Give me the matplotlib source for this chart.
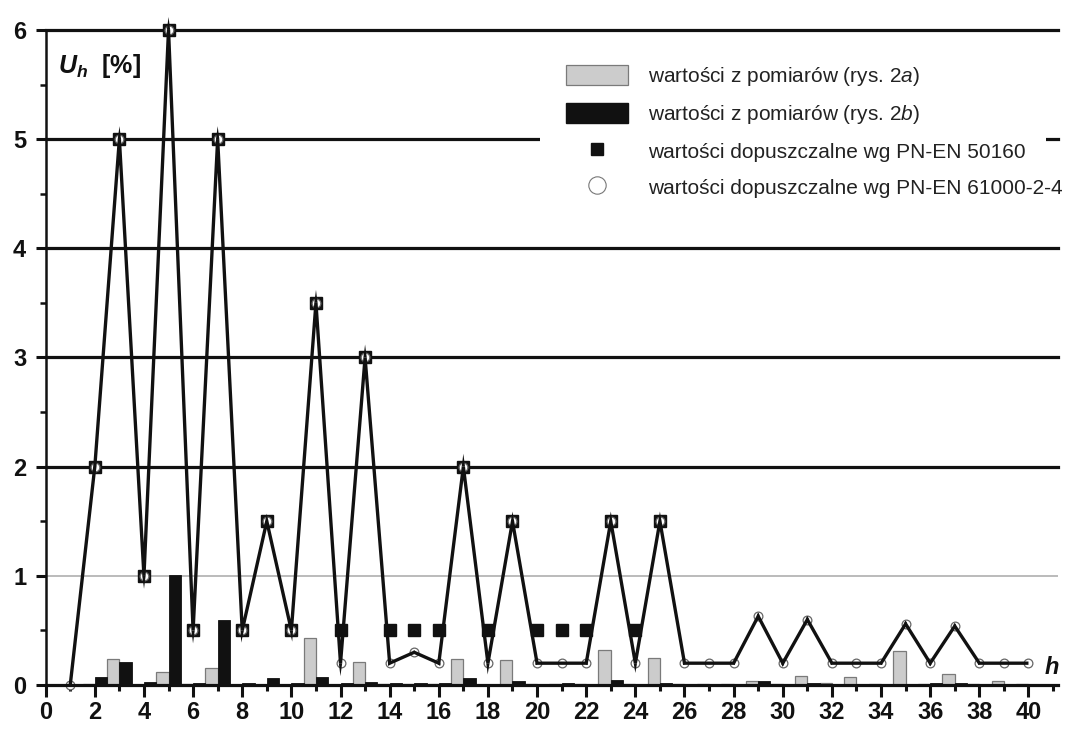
import numpy as np
import matplotlib
matplotlib.use("Agg")
import matplotlib.pyplot as plt
from matplotlib.patches import Patch, Rectangle, Polygon
from matplotlib.lines import Line2D
from matplotlib.transforms import IdentityTransform

plt.rcParams['font.family'] = ['Liberation Sans', 'DejaVu Sans']
plt.rcParams['mathtext.fontset'] = 'custom'
plt.rcParams['mathtext.rm'] = 'Liberation Sans'
plt.rcParams['mathtext.it'] = 'Liberation Sans:italic'
plt.rcParams['mathtext.bf'] = 'Liberation Sans:bold'
plt.rcParams['mathtext.bfit'] = 'Liberation Sans:italic:bold'

# harmonic order
harmonics = np.arange(1, 41)

# measured harmonic voltages [%]
measured_2a = [0.0, 0.01, 0.24, 0.0, 0.12, 0.005, 0.16, 0.0, 0.0, 0.0,
               0.43, 0.0, 0.21, 0.005, 0.01, 0.01, 0.24, 0.0, 0.23, 0.01,
               0.01, 0.01, 0.32, 0.01, 0.25, 0.01, 0.01, 0.01, 0.04, 0.01,
               0.08, 0.015, 0.075, 0.01, 0.31, 0.01, 0.10, 0.01, 0.035, 0.005]
measured_2b = [0.005, 0.07, 0.21, 0.03, 1.01, 0.02, 0.60, 0.02, 0.06, 0.02,
               0.07, 0.015, 0.03, 0.015, 0.015, 0.02, 0.06, 0.01, 0.04, 0.01,
               0.015, 0.01, 0.045, 0.01, 0.015, 0.01, 0.01, 0.01, 0.04, 0.01,
               0.015, 0.01, 0.01, 0.01, 0.01, 0.015, 0.015, 0.01, 0.01, 0.005]

# permissible levels
nan = np.nan
limit_50160 = [nan, 2, 5, 1, 6, 0.5, 5, 0.5, 1.5, 0.5,
               3.5, 0.5, 3, 0.5, 0.5, 0.5, 2, 0.5, 1.5, 0.5,
               0.5, 0.5, 1.5, 0.5, 1.5, nan, nan, nan, nan, nan,
               nan, nan, nan, nan, nan, nan, nan, nan, nan, nan]
limit_61000 = [0, 2, 5, 1, 6, 0.5, 5, 0.5, 1.5, 0.5,
               3.5, 0.2, 3, 0.2, 0.3, 0.2, 2, 0.2, 1.5, 0.2,
               0.2, 0.2, 1.5, 0.2, 1.5, 0.2, 0.2, 0.2, 0.63, 0.2,
               0.6, 0.2, 0.2, 0.2, 0.56, 0.2, 0.54, 0.2, 0.2, 0.2]

legend_labels = ['wartości z pomiarów (rys. $\\mathit{2a}$)',
                 'wartości z pomiarów (rys. $\\mathit{2b}$)',
                 'wartości dopuszczalne wg PN-EN 50160',
                 'wartości dopuszczalne wg PN-EN 61000-2-4']

DPI = 100
LINE_W = 2.4  # pt

fig = plt.figure(figsize=(10.72, 7.31), dpi=DPI)
ax = fig.add_axes([0.0426, 0.0629, 0.9443, 0.8961])
ax.set_xlim(0, 41.2)
ax.set_ylim(0, 6)

# horizontal reference lines
ax.set_yticks(np.arange(0, 7, 1))
ax.set_yticks(np.arange(0.5, 6, 1), minor=True)
for y in ax.get_yticks():
    if y == 0:
        continue
    if y == 1:
        ax.axhline(y, color='#a8a8a8', lw=1.1, zorder=1)
    else:
        ax.axhline(y, color='#111111', lw=2.3, zorder=1, clip_on=False)

# white background behind the legend
ax.add_patch(Rectangle((0.488, 0.72), 0.5, 0.24, transform=ax.transAxes,
                       facecolor='white', edgecolor='none', zorder=1.5))

# measured bars
ax.bar(harmonics - 0.5, measured_2a, width=0.5, align='edge',
       color='#cccccc', edgecolor='#7a7a7a', linewidth=0.9, zorder=2)
ax.bar(harmonics, measured_2b, width=0.5, align='edge',
       color='#111111', edgecolor='#111111', linewidth=0.6, zorder=2)

# permissible levels
ax.plot(harmonics, limit_50160, linestyle='none', marker='s', ms=8.5,
        color='#111111', zorder=4, clip_on=False)
ax.plot(harmonics, limit_61000, linestyle='none', marker='o', ms=6.3,
        mfc='white', mec='#666666', mew=0.9, zorder=5, clip_on=False)
ax.plot(harmonics, limit_61000, color='#111111', lw=LINE_W,
        solid_joinstyle='miter', solid_capstyle='butt', zorder=6, clip_on=False)


def miter_tips(xs, ys, lw_pt, max_len):
    """Pointed miter tips at the sharp corners of a polyline (display px)."""
    pts = ax.transData.transform(np.column_stack([xs, ys]))
    half = lw_pt * DPI / 72 / 2
    for i in range(1, len(pts) - 1):
        a, p, b = pts[i - 1], pts[i], pts[i + 1]
        u1 = (p - a) / np.linalg.norm(p - a)
        u2 = (b - p) / np.linalg.norm(b - p)
        bis = u1 - u2
        nb = np.linalg.norm(bis)
        if nb < 1e-3:
            continue
        bis = bis / nb
        n1 = np.array([-u1[1], u1[0]])
        if n1 @ bis < 0:
            n1 = -n1
        n2 = np.array([-u2[1], u2[0]])
        if n2 @ bis < 0:
            n2 = -n2
        phi = np.arccos(np.clip(-(u1 @ u2), -1.0, 1.0))
        length = min(half / np.sin(phi / 2), max_len)
        tip = p + bis * length
        ax.add_patch(Polygon([p + half * n1, tip, p + half * n2, p],
                             closed=True, transform=IdentityTransform(),
                             facecolor='#111111', edgecolor='none',
                             zorder=6, clip_on=False))


miter_tips(harmonics, limit_61000, LINE_W, 13)

# axes styling
for side in ('top', 'right'):
    ax.spines[side].set_visible(False)
ax.spines['left'].set_linewidth(1.8)
ax.spines['bottom'].set_linewidth(2.3)
ax.spines['left'].set_color('#111111')
ax.spines['bottom'].set_color('#111111')
ax.spines['bottom'].set_zorder(7)

ax.set_xticks(np.arange(0, 41, 2))
ax.set_xticks(np.arange(1, 42, 2), minor=True)
ax.tick_params(axis='x', which='major', direction='out', length=8.5,
               width=2.2, labelsize=17, pad=3, color='#111111')
ax.tick_params(axis='x', which='minor', direction='out', length=4.5,
               width=2.2, color='#111111')
ax.tick_params(axis='y', which='major', direction='out', length=7,
               width=2.2, labelsize=17, pad=7, color='#111111')
ax.tick_params(axis='y', which='minor', direction='out', length=4,
               width=1.8, color='#111111')
ax.set_yticklabels([f'{int(v)}' for v in ax.get_yticks()])
for lbl in ax.get_xticklabels() + ax.get_yticklabels():
    lbl.set_fontweight('bold')
    lbl.set_color('#111111')

# axis captions
ax.text(0.012, 0.935, '$\\mathbfit{U}_{\\mathbfit{h}}$  [%]', transform=ax.transAxes,
        fontsize=18, fontweight='bold', color='#111111', ha='left', va='baseline')
ax.text(40.65, 0.1, 'h', fontsize=17, fontweight='bold', fontstyle='italic',
        color='#111111', ha='left', va='baseline')

# legend
handles = [Patch(facecolor='#cccccc', edgecolor='#7a7a7a', linewidth=0.9),
           Patch(facecolor='#111111', edgecolor='#111111'),
           Line2D([], [], linestyle='none', marker='s', ms=8.5, color='#111111'),
           Line2D([], [], linestyle='none', marker='o', ms=12.5, mfc='white',
                  mec='#777777', mew=0.8)]
leg = ax.legend(handles, legend_labels, loc='upper left',
                bbox_to_anchor=(566 / 1072, 1 - 65 / 731),
                bbox_transform=fig.transFigure, frameon=False, fontsize=15,
                handlelength=2.98, handleheight=1.06, handletextpad=0.96,
                labelspacing=0.72, borderpad=0, borderaxespad=0)
for t in leg.get_texts():
    t.set_color('#222222')

fig.savefig('out.png', dpi=DPI)
